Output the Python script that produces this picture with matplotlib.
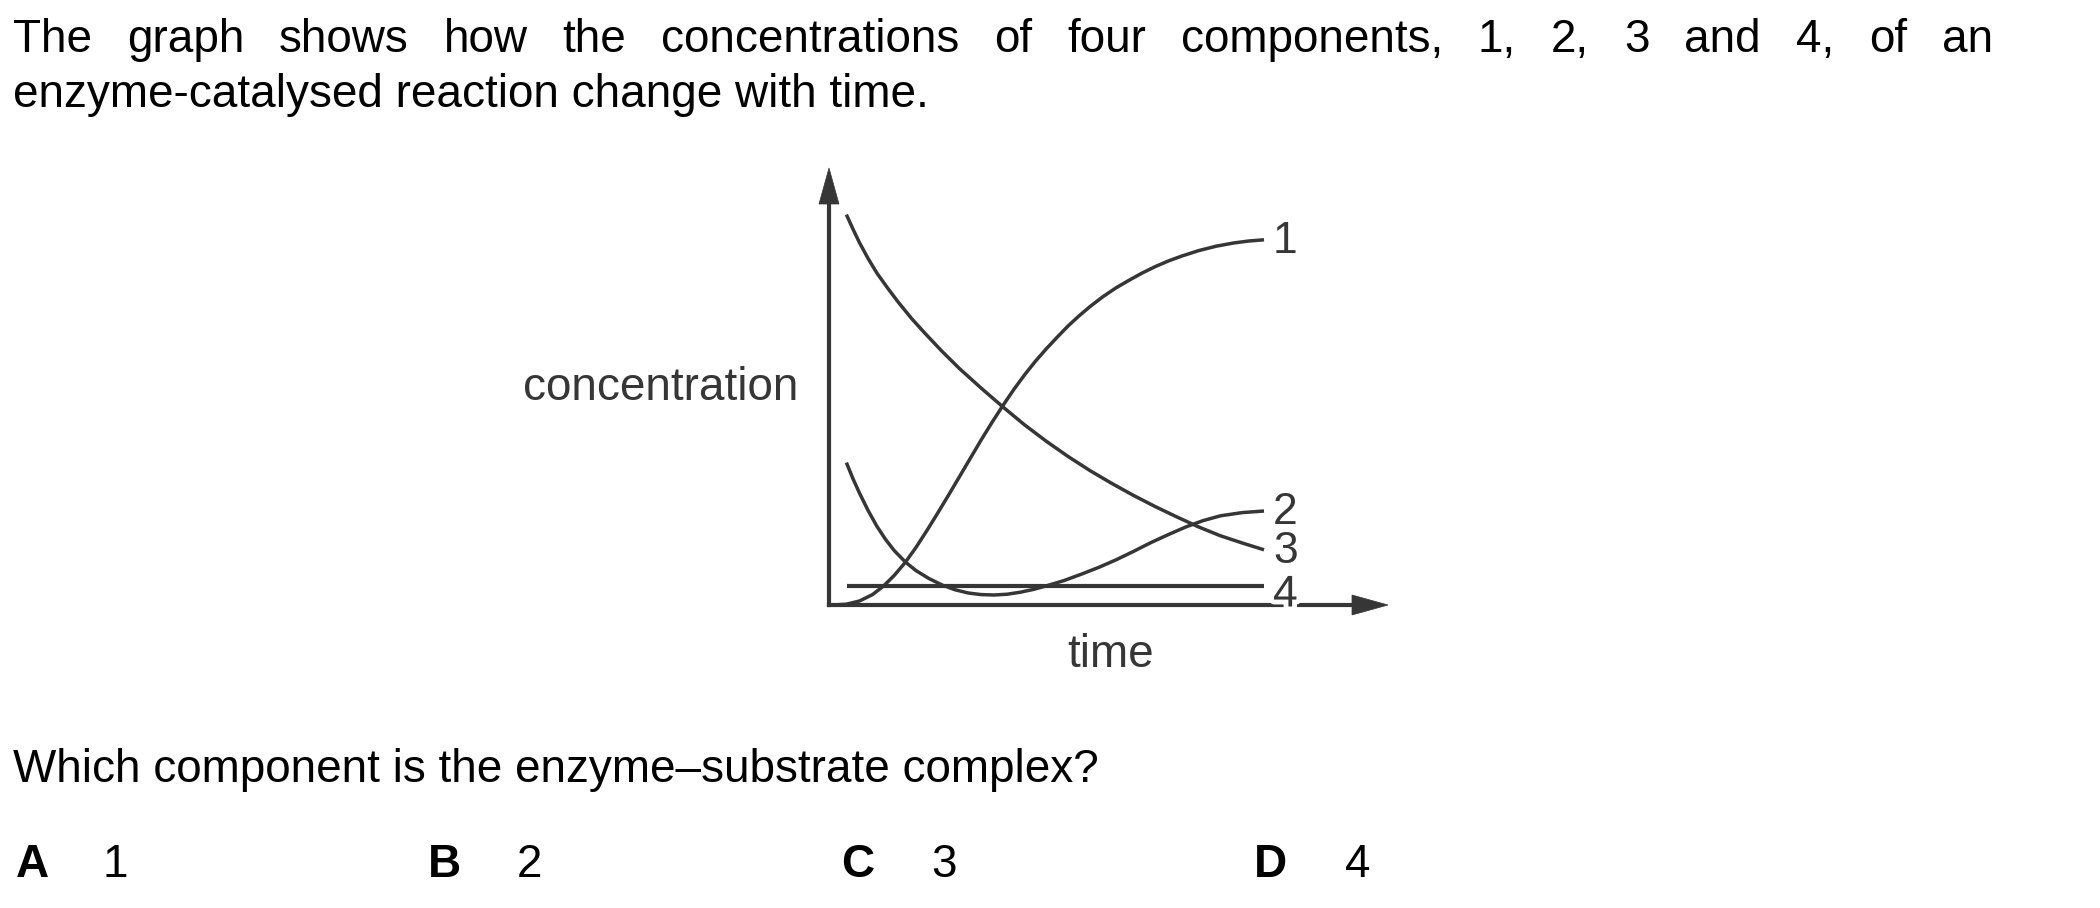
import matplotlib
matplotlib.use("Agg")
import matplotlib.pyplot as plt
from matplotlib.patches import Polygon
import matplotlib.patheffects as pe

plt.rcParams['font.family'] = ['Liberation Sans', 'DejaVu Sans']

# ---------------- data ----------------
# time axis in arbitrary units (0..10 = span of curves), concentration in arbitrary units
t1 = [0.10, 0.40, 0.70, 1.00, 1.25, 1.50, 1.75, 2.00, 2.25, 2.50, 2.75, 3.00, 3.25,
      3.50, 3.75, 4.00, 4.25, 4.50, 4.75, 5.00, 5.25, 5.50, 5.75, 6.00, 6.30, 6.60,
      6.90, 7.20, 7.50, 7.80, 8.10, 8.50, 8.90, 9.30, 9.65, 10.0]
c1 = [0.00, 0.02, 0.10, 0.26, 0.47, 0.74, 1.06, 1.44, 1.86, 2.30, 2.75, 3.21, 3.67,
      4.13, 4.57, 4.99, 5.39, 5.76, 6.10, 6.41, 6.70, 6.98, 7.23, 7.46, 7.71, 7.93,
      8.12, 8.30, 8.46, 8.60, 8.72, 8.86, 8.97, 9.05, 9.10, 9.13]

t2 = [0.40, 0.55, 0.70, 0.90, 1.10, 1.30, 1.50, 1.75, 2.00, 2.30, 2.60, 2.90, 3.20,
      3.50, 3.80, 4.10, 4.40, 4.70, 5.00, 5.40, 5.80, 6.20, 6.60, 7.00, 7.40, 7.80,
      8.20, 8.60, 9.00, 9.50, 10.0]
c2 = [3.56, 3.16, 2.80, 2.36, 1.97, 1.64, 1.36, 1.08, 0.86, 0.66, 0.50, 0.38, 0.30,
      0.26, 0.25, 0.27, 0.32, 0.39, 0.48, 0.61, 0.77, 0.94, 1.13, 1.34, 1.56, 1.76,
      1.95, 2.11, 2.23, 2.31, 2.35]

t3 = [0.40, 0.55, 0.70, 0.90, 1.10, 1.35, 1.60, 1.90, 2.20, 2.60, 3.00, 3.50, 4.00,
      4.50, 5.00, 5.50, 6.00, 6.50, 7.00, 7.50, 8.00, 8.50, 9.00, 9.50, 10.0]
c3 = [9.76, 9.40, 9.06, 8.66, 8.30, 7.92, 7.56, 7.16, 6.80, 6.34, 5.91, 5.42, 4.95,
      4.50, 4.09, 3.71, 3.36, 3.04, 2.74, 2.46, 2.20, 1.95, 1.73, 1.55, 1.38]

t4 = [0.41, 10.0]
c4 = [0.475, 0.475]

series = [(t1, c1, "1"), (t2, c2, "2"), (t3, c3, "3"), (t4, c4, "4")]

line1_words = ["The", "graph", "shows", "how", "the", "concentrations", "of", "four",
               "components,", "1,", "2,", "3", "and", "4,", "of", "an"]
line2 = "enzyme-catalysed reaction change with time."
question = "Which component is the enzyme\u2013substrate complex?"
option_letters = ["A", "B", "C", "D"]
option_values = ["1", "2", "3", "4"]

ylabel = "concentration"
xlabel = "time"

# ---------------- figure ----------------
W, H = 2100, 908
DPI = 100
fig = plt.figure(figsize=(W / DPI, H / DPI), dpi=DPI)
fig.patch.set_facecolor("white")

FS = 33
FS_LAB = 32
GRAY = "#363636"


def fx(px):
    return px / W


def fy(py):
    return 1 - py / H


# graph axes: origin at pixel (829, 605), arrow tips at x=1388 and y=168
x0, y0, x1, y1 = 829, 605, 1388, 168
ax = fig.add_axes([fx(x0), fy(y0), (x1 - x0) / W, (y0 - y1) / H])
xmax = (x1 - x0) / 43.5
ymax = (y0 - y1) / 40.0
ax.set_xlim(0, xmax)
ax.set_ylim(0, ymax)
ax.set_xticks([])
ax.set_yticks([])
for s in ["top", "right"]:
    ax.spines[s].set_visible(False)
for s in ["left", "bottom"]:
    ax.spines[s].set_linewidth(3.0)
    ax.spines[s].set_color(GRAY)
    ax.spines[s].set_capstyle("projecting")
ax.patch.set_alpha(0)

# arrowheads (sizes in pixels)
xbase = (1352 - x0) / 43.5
ybase = (y0 - 204) / 40.0
hw_x = 10 / 43.5
hw_y = 10 / 40.0
ax.spines["bottom"].set_bounds(0, xbase)
ax.spines["left"].set_bounds(0, ybase)
ax.add_patch(Polygon([[-hw_x, ybase], [hw_x, ybase], [0, ymax]], closed=True,
                     facecolor=GRAY, edgecolor=GRAY, lw=0.5, clip_on=False, zorder=4))
ax.add_patch(Polygon([[xbase, -hw_y], [xbase, hw_y], [xmax, 0]], closed=True,
                     facecolor=GRAY, edgecolor=GRAY, lw=0.5, clip_on=False, zorder=4))

label_dy = {"1": -2, "2": -2, "3": -2, "4": -9}
for t, c, lab in series:
    lw = 3.0 if lab == "4" else 2.5
    ax.plot(t, c, color=GRAY, lw=lw, solid_capstyle="butt", solid_joinstyle="round",
            clip_on=False, zorder=3)
    kw = {}
    if lab == "4":
        kw["path_effects"] = [pe.withStroke(linewidth=7, foreground="white")]
    ax.annotate(lab, xy=(t[-1], c[-1]), xytext=(9, label_dy[lab]),
                textcoords="offset pixels", ha="left", va="center",
                fontsize=FS_LAB, color=GRAY, zorder=5, annotation_clip=False, **kw)

# axis labels
fig.text(fx(798), fy(400), ylabel, ha="right", va="baseline", fontsize=FS, color=GRAY)
fig.text(fx(1111), fy(667), xlabel, ha="center", va="baseline", fontsize=FS, color=GRAY)

# ---------------- question text ----------------
# line 1: justified between x=13 and x=1993
renderer = fig.canvas.get_renderer()
texts = [fig.text(0, fy(52), w, ha="left", va="baseline", fontsize=FS, color="black")
         for w in line1_words]
widths = [tx.get_window_extent(renderer).width for tx in texts]
left, right = 13, 1993
gap = (right - left - sum(widths)) / (len(texts) - 1)
x = left
for tx, wdt in zip(texts, widths):
    tx.set_x(fx(x))
    x += wdt + gap

fig.text(fx(13), fy(107), line2, ha="left", va="baseline", fontsize=FS, color="black")
fig.text(fx(13), fy(782), question, ha="left", va="baseline", fontsize=FS, color="black")

letter_x = [16, 428, 841, 1254]
value_x = [102, 517, 931, 1345]
for lx, vx, L, V in zip(letter_x, value_x, option_letters, option_values):
    fig.text(fx(lx), fy(877), L, ha="left", va="baseline", fontsize=FS,
             fontweight="bold", color="black")
    fig.text(fx(vx), fy(877), V, ha="left", va="baseline", fontsize=FS, color="black")

fig.savefig("out.png", dpi=DPI, facecolor="white")
